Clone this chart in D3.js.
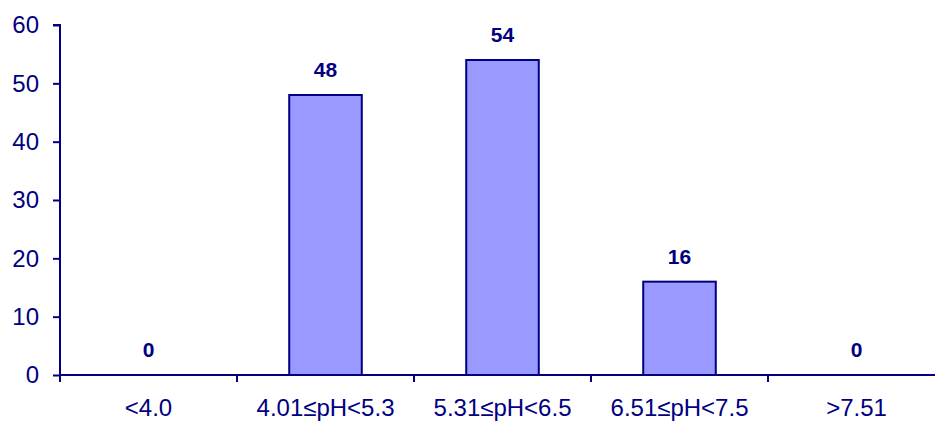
<!DOCTYPE html>
<html><head><meta charset="utf-8">
<script src="https://cdn.jsdelivr.net/npm/d3@7/dist/d3.min.js"></script>
<style>body{margin:0;background:#fff}svg{display:block}</style>
</head><body>
<script>
const categories = ["<4.0", "4.01≤pH<5.3", "5.31≤pH<6.5", "6.51≤pH<7.5", ">7.51"];
const values = [0, 48, 54, 16, 0];
const yTicks = [0, 10, 20, 30, 40, 50, 60];

const W = 935, H = 421;
const navy = "#000080";
const font = "Liberation Sans, Arial, sans-serif";
const m = {left: 60, top: 25, bottom: 46};
const plotRight = 945;
const svg = d3.select("body").append("svg").attr("width", W).attr("height", H);

const x = d3.scaleBand().domain(categories).range([m.left, plotRight]).paddingInner(0.59).paddingOuter(0.295);
const xb = d3.scaleBand().domain(categories).range([m.left, plotRight]);
const y = d3.scaleLinear().domain([0, 60]).range([H - m.bottom, m.top]);

// bars
svg.selectAll("rect.bar").data(values).enter().append("rect")
  .attr("x", (d, i) => x(categories[i]))
  .attr("width", x.bandwidth())
  .attr("y", d => y(d))
  .attr("height", d => y(0) - y(d))
  .attr("fill", "#9999FF").attr("stroke", navy).attr("stroke-width", 2);

// value labels
svg.selectAll("text.val").data(values).enter().append("text")
  .attr("x", (d, i) => xb(categories[i]) + xb.bandwidth() / 2)
  .attr("y", d => y(d) - 18)
  .attr("text-anchor", "middle")
  .attr("font-family", font)
  .attr("font-size", 21).attr("font-weight", "bold").attr("fill", navy)
  .text(d => d);

// y axis
const ya = svg.append("g").attr("transform", `translate(${m.left},0)`)
  .call(d3.axisLeft(y).tickValues(yTicks).tickSize(7).tickPadding(14));
ya.select(".domain").attr("stroke", navy).attr("stroke-width", 2).attr("d", `M-7,${y(60)}H0V${y(0)}`);
ya.selectAll(".tick line").attr("stroke", navy).attr("stroke-width", 2);
ya.selectAll(".tick text").attr("fill", navy).attr("font-size", 24)
  .attr("font-family", font);

// x axis
const xa = svg.append("g").attr("transform", `translate(0,${y(0)})`)
  .call(d3.axisBottom(xb).tickSize(0));
xa.select(".domain").attr("stroke", navy).attr("stroke-width", 2).attr("d", `M${m.left},0H${plotRight}`);
xa.selectAll(".tick text").attr("fill", navy).attr("font-size", 24)
  .attr("font-family", font).attr("y", 41).attr("dy", 0);
// category boundary ticks
xa.selectAll("line.sep").data(d3.range(categories.length + 1)).enter().append("line")
  .attr("x1", i => m.left + i * xb.step()).attr("x2", i => m.left + i * xb.step())
  .attr("y1", 0).attr("y2", 7).attr("stroke", navy).attr("stroke-width", 2);
</script>
</body></html>
